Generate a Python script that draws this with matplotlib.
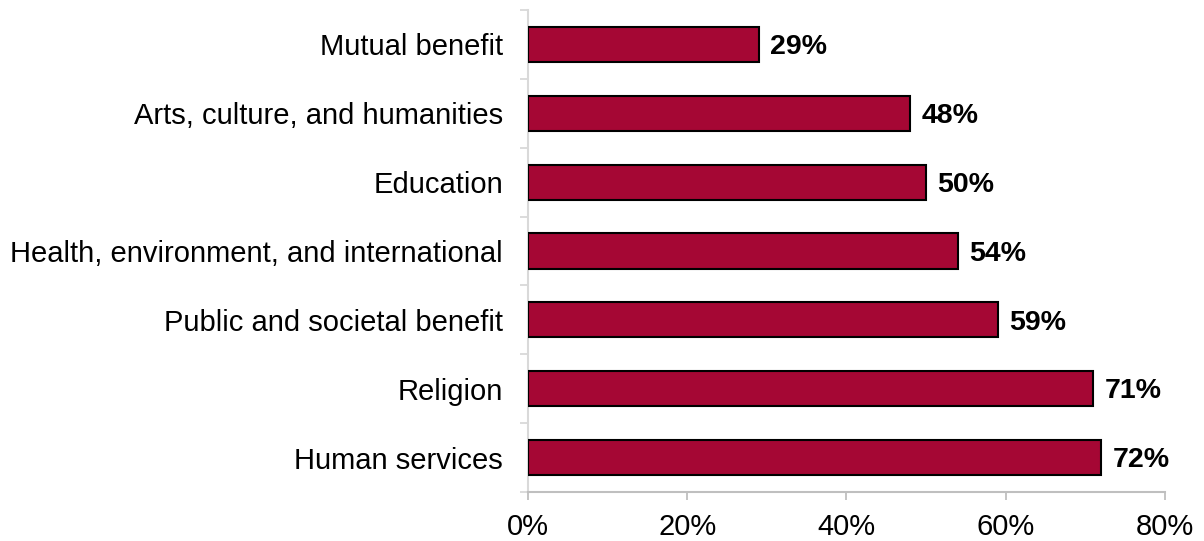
import matplotlib.pyplot as plt
import numpy as np
from matplotlib.ticker import FuncFormatter

plt.rcParams['font.family'] = ['Liberation Sans', 'DejaVu Sans']

categories = ['Mutual benefit', 'Arts, culture, and humanities', 'Education',
              'Health, environment, and international', 'Public and societal benefit',
              'Religion', 'Human services']
values = [29, 48, 50, 54, 59, 71, 72]

fig = plt.figure(figsize=(12.04, 5.41), dpi=100)
ax = fig.add_axes([0.4385, 0.0906, 0.5291, 0.8909])

y = np.arange(len(categories))
ax.barh(y, values, height=0.51, color='#A50734', edgecolor='black', linewidth=1.5, zorder=3)

# value labels to the right of each bar
for yi, v in zip(y, values):
    ax.text(v + 1.4, yi + 0.04, f'{v}%', va='center', ha='left', fontsize=20.5, fontweight='bold')

ax.set_ylim(len(categories) - 0.5, -0.5)
ax.set_xlim(0, 80)
ax.set_xticks([0, 20, 40, 60, 80])
ax.xaxis.set_major_formatter(FuncFormatter(lambda x, p: f'{x:.0f}%'))

ax.set_yticks(y)
ax.set_yticklabels(categories, fontsize=21)
ax.set_yticks(np.arange(-0.5, len(categories)), minor=True)
ax.tick_params(axis='y', which='major', length=0, pad=18)
ax.tick_params(axis='y', which='minor', length=6, width=1.3, color='#D9D9D9')
ax.tick_params(axis='x', labelsize=21, length=6, width=1.3, color='#BFBFBF', pad=9)

for s in ['top', 'right']:
    ax.spines[s].set_visible(False)
ax.spines['left'].set_color('#D9D9D9')
ax.spines['left'].set_linewidth(1.5)
ax.spines['bottom'].set_color('#BFBFBF')
ax.spines['bottom'].set_linewidth(1.5)

fig.savefig('out.png', dpi=100)
